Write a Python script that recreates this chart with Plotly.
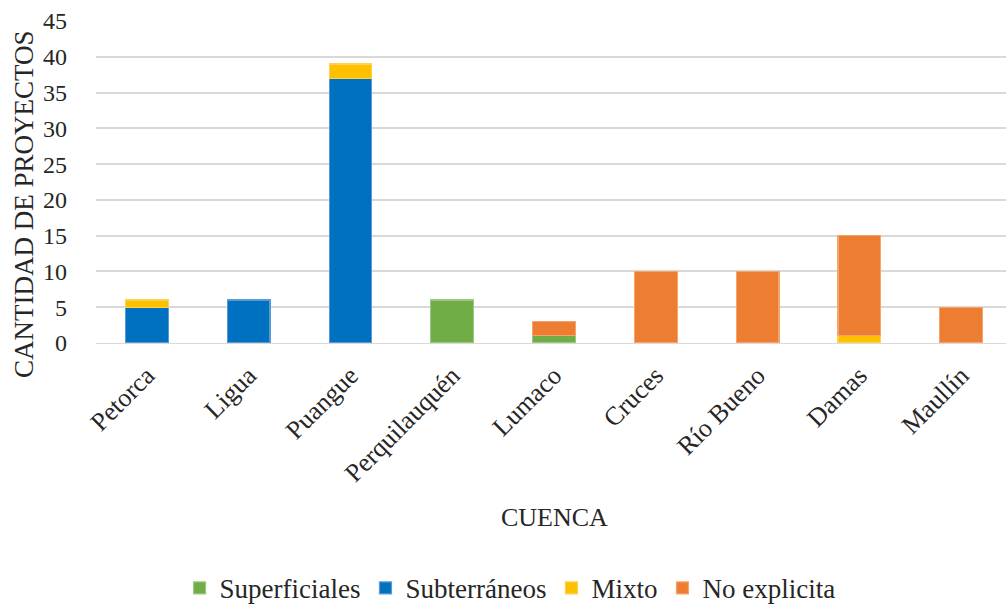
import plotly.graph_objects as go

cuencas = ["Petorca", "Ligua", "Puangue", "Perquilauquén", "Lumaco",
           "Cruces", "Río Bueno", "Damas", "Maullín"]
superficiales = [0, 0, 0, 6, 1, 0, 0, 0, 0]
subterraneos = [5, 6, 37, 0, 0, 0, 0, 0, 0]
mixto = [1, 0, 2, 0, 0, 0, 0, 1, 0]
no_explicita = [0, 0, 0, 0, 2, 10, 10, 14, 5]
y_ticks = [0, 5, 10, 15, 20, 25, 30, 35, 40, 45]

series = [
    ("Superficiales", superficiales, "#70AD47", "#9cc97f"),
    ("Subterráneos", subterraneos, "#0070C0", "#5b9bd5"),
    ("Mixto", mixto, "#FFC000", "#ffd24d"),
    ("No explicita", no_explicita, "#ED7D31", "#f3a46f"),
]

FONT = "Liberation Serif"
TXT = "#262626"

fig = go.Figure()
for name, vals, color, edge in series:
    # empty segments are skipped so their outlines are not drawn
    fig.add_trace(go.Bar(
        x=cuencas, y=[v if v else None for v in vals], name=name,
        marker=dict(color=color, line=dict(color=edge, width=1.2)),
        width=0.42,
    ))

fig.update_layout(
    barmode="stack",
    width=1006, height=605,
    margin=dict(l=96, r=0, t=21, b=262, autoexpand=False),
    plot_bgcolor="white", paper_bgcolor="white",
    font=dict(family=FONT, size=26, color=TXT),
    xaxis=dict(
        tickangle=-45, showline=True, linecolor="#d9d9d9", linewidth=1,
        ticks="", tickfont=dict(size=26, family=FONT, color=TXT),
        ticklabelstandoff=6,
        range=[-0.5, 8.44],
    ),
    yaxis=dict(
        range=[0, 45], tickvals=y_ticks, showgrid=True,
        gridcolor="#d9d9d9", gridwidth=1.5, zeroline=False,
        ticks="", tickfont=dict(size=24, family=FONT, color=TXT),
        ticklabelstandoff=28,
    ),
    legend=dict(
        orientation="h", x=0.455, xanchor="center", y=-0.762, yanchor="middle",
        font=dict(size=27, family=FONT, color=TXT), traceorder="normal",
        itemwidth=30,
    ),
    annotations=[
        dict(
            text="CUENCA", xref="paper", yref="paper", x=0.504, y=-0.543,
            showarrow=False, xanchor="center", yanchor="middle",
            font=dict(size=26, family=FONT, color=TXT),
        ),
        dict(
            text="CANTIDAD DE PROYECTOS", xref="paper", yref="paper",
            x=-0.0791, y=0.432, textangle=-90,
            showarrow=False, xanchor="center", yanchor="middle",
            font=dict(size=27, family=FONT, color=TXT),
        ),
    ],
)

fig.write_html("out.html")
